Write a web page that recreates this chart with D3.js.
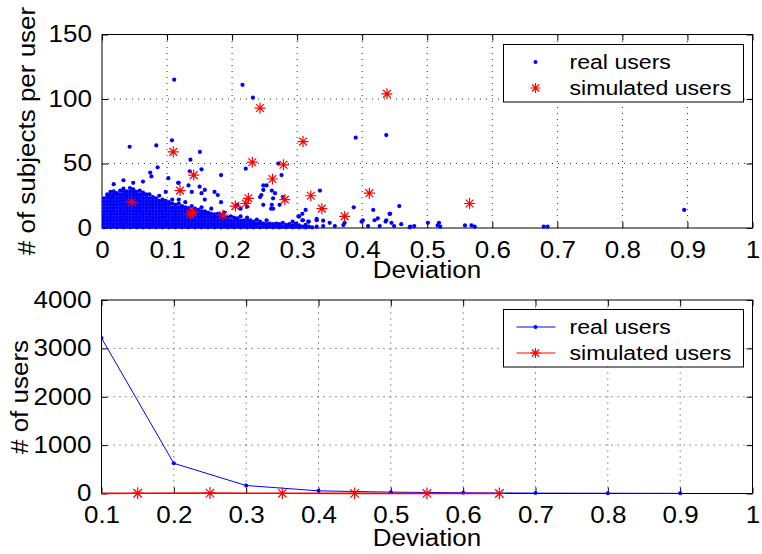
<!DOCTYPE html>
<html><head><meta charset="utf-8">
<script src="https://cdn.jsdelivr.net/npm/d3@7/dist/d3.min.js"></script>
<style>
body{margin:0;background:#fff;}
svg{display:block;font-family:"Liberation Sans",Arial,Helvetica,sans-serif;}
</style></head>
<body><svg id="c" width="762" height="554"></svg>
<script>
// ---------- DATA ----------
// Top panel: dense part of real users, read column by column: [deviation, [subjects...]]
const realCols = [
[0.003,[0.5,3,5.5,8,10.5,13,15.5,18,20.5,23]],
[0.008,[1,3.5,6,8.5,11,13.5,16,18.5,21,24,26]],
[0.013,[0.5,3,5.5,8,10.5,13,15.5,18,20.5,23,25.5,28]],
[0.018,[1,3.5,6,8.5,11,13.5,16,18.5,21,23.5,26,28.5,34]],
[0.023,[0.5,3,5.5,8,10.5,13,15.5,18,20.5,23,25.5,27]],
[0.028,[1,3.5,6,8.5,11,13.5,16,18.5,21,23.5,26,29]],
[0.033,[0.5,3,5.5,8,10.5,13,15.5,18,20.5,23,25.5,28,30.5,37]],
[0.038,[1,3.5,6,8.5,11,13.5,16,18.5,21,23.5,26,28.5]],
[0.043,[0.5,3,5.5,8,10.5,13,15.5,18,20.5,23,25.5,28,31]],
[0.048,[1,3.5,6,8.5,11,13.5,16,18.5,21,23.5,26,28.5,30,35]],
[0.053,[0.5,3,5.5,8,10.5,13,15.5,18,20.5,23,25.5,28]],
[0.058,[1,3.5,6,8.5,11,13.5,16,18.5,21,23.5,26,29]],
[0.063,[0.5,3,5.5,8,10.5,13,15.5,18,20.5,23,25.5,27.5,36]],
[0.068,[1,3.5,6,8.5,11,13.5,16,18.5,21,23.5,26]],
[0.073,[0.5,3,5.5,8,10.5,13,15.5,18,20.5,23,26]],
[0.078,[1,3.5,6,8.5,11,13.5,16,18.5,21,24]],
[0.083,[0.5,3,5.5,8,10.5,13,15.5,18,20.5,23]],
[0.088,[1,3.5,6,8.5,11,13.5,16,18.5,21,25]],
[0.093,[0.5,3,5.5,8,10.5,13,15.5,18,20.5,22]],
[0.098,[1,3.5,6,8.5,11,13.5,16,18.5,21,28]],
[0.103,[0.5,3,5.5,8,10.5,13,15.5,18,20]],
[0.108,[1,3.5,6,8.5,11,13.5,16,19,22]],
[0.113,[0.5,3,5.5,8,10.5,13,15.5,18]],
[0.118,[1,3.5,6,8.5,11,13.5,16,19,22,35]],
[0.123,[0.5,3,5.5,8,10.5,13,15.5,17]],
[0.128,[1,3.5,6,8.5,11,13.5,16,20]],
[0.133,[0.5,3,5.5,8,10.5,13,15.5,33]],
[0.138,[1,3.5,6,8.5,11,13.5,17,28]],
[0.143,[0.5,3,5.5,8,10.5,13,15]],
[0.148,[1,3.5,6,8.5,11,14]],
[0.153,[0.5,3,5.5,8,10.5,13,16,27]],
[0.158,[1,3.5,6,8.5,11,13,22,29.5]],
[0.163,[0.5,3,5.5,8,10.5,12]],
[0.168,[1,3.5,6,8.5,11,15]],
[0.173,[0.5,3,5.5,8,10.5,28]],
[0.178,[1,3.5,6,8.5,11,25.6]],
[0.183,[0.5,3,5.5,8,10,20]],
[0.188,[1,3.5,6,8.5,12]],
[0.193,[0.5,3,5.5,8]],
[0.198,[1,3.5,6,9]],
[0.203,[0.5,3,5.5,8]],
[0.208,[1,3.5,6,7.5,18]],
[0.213,[0.5,3,5.5,9,15]],
[0.218,[1,3.5,6]],
[0.223,[0.5,3,5.5,8,16.5]],
[0.228,[1,3.5,6]],
[0.233,[0.5,3,5]],
[0.238,[1,3.5,6.5]],
[0.243,[0.5,3,5,24]],
[0.248,[1,3.5,18,29.5]],
[0.253,[0.5,3,6,33]],
[0.258,[1,3.5]],
[0.263,[0.5,3,15,23]],
[0.268,[1,3.5]],
[0.273,[0.5,3,18]],
[0.278,[1,4,24]],
[0.283,[0.5,2.5]],
[0.288,[1,3]],
[0.293,[0.5,2,5]],
[0.298,[1,3.5]],
[0.303,[0.5,2,9]],
[0.308,[1,6,11]],
[0.313,[0.5,2.5,14]],
[0.318,[1,5]],
[0.323,[0.5]],
[0.330,[1,6,7]],
[0.340,[1.5,5.7]],
[0.350,[4]]
];
// Top panel: sparse real users [deviation, subjects]
const realSparse = [
[0.111,115],[0.216,111],[0.232,101],[0.39,70],[0.437,72],[0.0425,63],[0.0835,64],
[0.1075,68],[0.1505,59],[0.136,53],[0.0855,47],[0.074,43],[0.076,40],[0.135,44],
[0.153,45.5],[0.183,41],[0.221,46],[0.271,50],[0.276,41],[0.248,33],[0.261,29],
[0.335,29],[0.387,16],[0.457,17],[0.417,14],[0.102,38.6],[0.117,35],[0.15,32],
[0.266,27],[0.245,25.6],[0.261,18],[0.26,15],[0.302,9],[0.309,6],[0.317,5],
[0.358,1.5],[0.371,2.3],[0.373,4],[0.399,5],[0.401,6],[0.409,1.5],[0.419,6],
[0.424,7.5],[0.427,1.5],[0.437,6],[0.445,4],[0.442,11],[0.473,0.5],[0.48,1.5],
[0.895,14],[0.443,11],[0.436,5],[0.449,1.5],[0.474,1],[0.501,4],[0.516,2],
[0.518,4],[0.52,1],[0.558,2],[0.568,2],[0.573,1],[0.679,1],[0.685,1],[0.46,3]
];
// Top panel: simulated users [deviation, subjects]
const simUsers = [
[0.0456,20],[0.1095,59],[0.120,29],[0.141,41],[0.139,12],[0.136,11],[0.186,10],
[0.205,17],[0.221,19],[0.225,23],[0.231,51],[0.243,93],[0.262,38],[0.279,49],
[0.281,22],[0.309,67],[0.321,25],[0.338,15],[0.373,9],[0.411,27],[0.438,104],[0.565,19]
];
// Bottom panel: histogram counts
const realBins = [0.1,0.2,0.3,0.4,0.5,0.6,0.7,0.8,0.9];
const realCounts = [3213,624,165,55,28,15,8,5,3];
const simBins = [0.05,0.15,0.25,0.35,0.45,0.55,0.65];
const simCounts = [1,6,8,4,2,1,0];

const topXTicks = [0,0.1,0.2,0.3,0.4,0.5,0.6,0.7,0.8,0.9,1];
const topYTicks = [0,50,100,150];
const botXTicks = [0.1,0.2,0.3,0.4,0.5,0.6,0.7,0.8,0.9,1];
const botYTicks = [0,1000,2000,3000,4000];
const legendLabels = ["real users","simulated users"];

const realUsers = [];
realCols.forEach(([x,ys])=>ys.forEach(y=>realUsers.push([x,y])));
realSparse.forEach(p=>realUsers.push(p));

// ---------- DRAW ----------
const svg = d3.select("#c");
const fmt = d => d===0?"0":d===1?"1":String(d);
const TICKFONT = 23;
const SX = 1.13; // horizontal widening of glyphs (Helvetica-like look)

function starPath(s){
  const d=s*0.7071;
  return `M${-s},0L${s},0M0,${-s}L0,${s}M${-d},${-d}L${d},${d}M${-d},${d}L${d},${-d}`;
}

function panel(x,y,xt,yt,id){
  const [x0,x1]=x.range(), [y0,y1]=y.range();
  const g = svg.append("g");
  g.append("g").selectAll("line").data(xt.filter(v=>x(v)>x0+1&&x(v)<x1-1)).join("line")
    .attr("x1",d=>x(d)).attr("x2",d=>x(d)).attr("y1",y0).attr("y2",y1)
    .attr("stroke","#333").attr("stroke-width",1).attr("stroke-dasharray","1,5");
  g.append("g").selectAll("line").data(yt.filter(v=>y(v)<y0-1&&y(v)>y1+1)).join("line")
    .attr("y1",d=>y(d)).attr("y2",d=>y(d)).attr("x1",x0).attr("x2",x1)
    .attr("stroke","#333").attr("stroke-width",1).attr("stroke-dasharray","1,5");
  const ax = g.append("g").attr("transform",`translate(0,${y0})`)
    .call(d3.axisBottom(x).tickValues(xt).tickFormat(fmt).tickSize(-6).tickPadding(13.5));
  const ay = g.append("g").attr("transform",`translate(${x0},0)`)
    .call(d3.axisLeft(y).tickValues(yt).tickFormat(d3.format("d")).tickSize(-6).tickPadding(9));
  const at = g.append("g").attr("transform",`translate(0,${y1})`)
    .call(d3.axisTop(x).tickValues(xt).tickFormat("").tickSize(-6));
  const ar = g.append("g").attr("transform",`translate(${x1},0)`)
    .call(d3.axisRight(y).tickValues(yt).tickFormat("").tickSize(-6));
  [ax,ay,at,ar].forEach(a=>{a.select(".domain").remove();
    a.selectAll("line").attr("stroke","#000");
    a.selectAll("text").attr("font-size",TICKFONT).attr("fill","#000")
     .attr("font-family","'Liberation Sans',Arial,sans-serif")
     .attr("transform",`scale(${SX},1)`);});
  g.append("rect").attr("x",x0).attr("y",y1).attr("width",x1-x0).attr("height",y0-y1)
    .attr("fill","none").attr("stroke","#000").attr("stroke-width",1);
  svg.append("clipPath").attr("id",id).append("rect")
    .attr("x",x0).attr("y",y1-6).attr("width",x1-x0).attr("height",y0-y1+12);
  return g;
}

// ----- top panel -----
const xT = d3.scaleLinear().domain([0,1]).range([102,752.5]);
const yT = d3.scaleLinear().domain([0,150]).range([228,34.5]);
const gT = panel(xT,yT,topXTicks,topYTicks,"clipT");
gT.append("g").selectAll("circle").data(realUsers).join("circle")
  .attr("cx",d=>xT(d[0])).attr("cy",d=>yT(d[1])).attr("r",2.1).attr("fill","#0000ff");
gT.append("g").selectAll("path").data(simUsers).join("path")
  .attr("transform",d=>`translate(${xT(d[0])},${yT(d[1])})`)
  .attr("d",starPath(5.5)).attr("stroke","#ff0000").attr("stroke-width",1.2).attr("fill","none");

// ----- bottom panel -----
const xB = d3.scaleLinear().domain([0.1,1]).range([101.5,752.5]);
const yB = d3.scaleLinear().domain([0,4000]).range([493.5,300]);
const gB = panel(xB,yB,botXTicks,botYTicks,"clipB");
const real2 = realBins.map((b,i)=>[b,realCounts[i]]);
const sim2 = simBins.map((b,i)=>[b,simCounts[i]]);
const line = d3.line().x(d=>xB(d[0])).y(d=>yB(d[1]));
const gBd = gB.append("g").attr("clip-path","url(#clipB)");
gBd.append("path").datum(real2).attr("d",line).attr("fill","none").attr("stroke","#0000ff").attr("stroke-width",1);
gBd.selectAll("circle").data(real2).join("circle")
  .attr("cx",d=>xB(d[0])).attr("cy",d=>yB(d[1])).attr("r",2).attr("fill","#0000ff");
gBd.append("path").datum(sim2).attr("d",line).attr("fill","none").attr("stroke","#ff0000").attr("stroke-width",1.6);
gBd.selectAll("path.st").data(sim2).join("path").attr("class","st")
  .attr("transform",d=>`translate(${xB(d[0])},${yB(d[1])})`)
  .attr("d",starPath(6)).attr("stroke","#ff0000").attr("stroke-width",1.2).attr("fill","none");

// ----- labels -----
const lab = (x,y,t,rot)=>svg.append("text").attr("x",0).attr("y",0).text(t)
  .attr("text-anchor","middle").attr("font-size",23).attr("fill","#000")
  .attr("transform",`translate(${x},${y})${rot?" rotate(-90)":""} scale(${SX},1)`);
lab(427,278,"Deviation");
lab(427,546,"Deviation");
lab(35,131,"# of subjects per user",true);
lab(28,397,"# of users",true);

// ----- legends -----
function legend(x0,y0,w,h,lineMode){
  const g=svg.append("g");
  g.append("rect").attr("x",x0).attr("y",y0).attr("width",w).attr("height",h)
    .attr("fill","#fff").attr("stroke","#000").attr("stroke-width",1);
  const rows=[y0+17.5,y0+43.5];
  const cx=x0+32;
  if(lineMode){
    g.append("line").attr("x1",x0+13).attr("x2",x0+52).attr("y1",rows[0]).attr("y2",rows[0]).attr("stroke","#0000ff");
    g.append("line").attr("x1",x0+13).attr("x2",x0+52).attr("y1",rows[1]).attr("y2",rows[1]).attr("stroke","#ff0000");
  }
  g.append("circle").attr("cx",cx).attr("cy",rows[0]).attr("r",2).attr("fill","#0000ff");
  g.append("path").attr("transform",`translate(${cx},${rows[1]})`).attr("d",starPath(5))
    .attr("stroke","#ff0000").attr("stroke-width",1.2).attr("fill","none");
  legendLabels.forEach((t,i)=>g.append("text").attr("x",0).attr("y",0).attr("dy","0.35em")
    .attr("transform",`translate(${x0+66},${rows[i]}) scale(1.1,1)`)
    .attr("font-size",21).attr("fill","#000").text(t));
}
legend(503.5,44.5,240,57.5,false);
legend(503.5,309.5,240,57.5,true);
</script></body></html>
